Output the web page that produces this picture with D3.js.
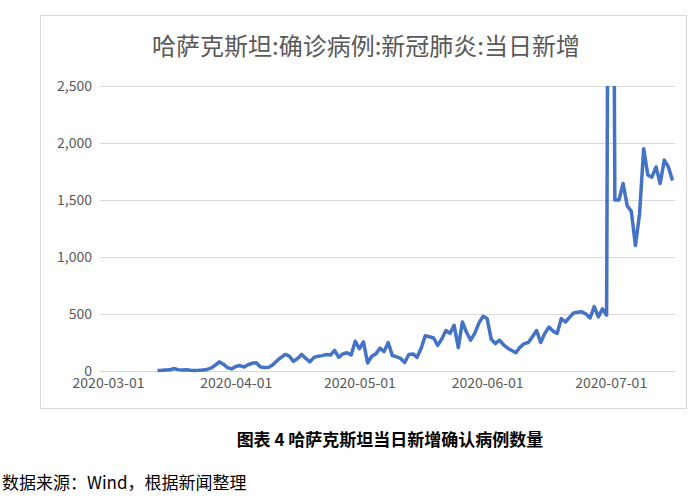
<!DOCTYPE html><html><head><meta charset="utf-8"><script src="https://cdn.jsdelivr.net/npm/d3@7"></script>
<style>body{margin:0;background:#fff}</style></head><body><svg id="c" width="700" height="500"></svg><script>
const startDay = 12; // index from 2020-03-01
const values = [4,6,9,10,22,12,8,10,6,5,6,8,14,25,50,80,60,30,18,40,48,35,55,68,72,35,30,32,55,90,120,145,130,85,110,145,110,80,120,130,135,145,140,180,120,150,160,140,260,195,255,70,130,150,200,170,250,135,125,110,75,145,150,120,200,310,300,290,225,280,355,330,400,205,430,340,270,330,420,480,460,280,240,270,230,200,180,160,210,240,250,300,355,250,330,385,350,330,460,430,470,510,515,520,500,465,565,475,545,490,10000,1500,1500,1645,1450,1400,1100,1380,1950,1720,1700,1790,1645,1850,1790,1670];
const yTicks = [0,500,1000,1500,2000,2500];
const xTickDays = [0,31,61,92,122];
const xTickLabels = ["2020-03-01","2020-04-01","2020-05-01","2020-06-01","2020-07-01"];
const title = "哈萨克斯坦:确诊病例:新冠肺炎:当日新增";
const caption = "图表 4 哈萨克斯坦当日新增确认病例数量";
const source = "数据来源：Wind，根据新闻整理";

const svg = d3.select("#c");
const font = "'Noto Sans CJK SC','Noto Sans',sans-serif";
svg.append("rect").attr("x",40.5).attr("y",15.5).attr("width",646).attr("height",393).attr("fill","#fff").attr("stroke","#d9d9d9");
const x = d3.scaleLinear().domain([-6.8,137.6]).range([80,675]);
const y = d3.scaleLinear().domain([0,2500]).range([371,86]);
svg.append("text").attr("x",366).attr("y",55).attr("text-anchor","middle").attr("font-family",font).attr("font-size",24).attr("fill","#595959").text(title);
const gy = svg.append("g").attr("transform","translate(100,0)").call(d3.axisLeft(y).tickValues(yTicks).tickSize(-575).tickFormat(d3.format(",")));
gy.select(".domain").remove();
gy.selectAll("line").attr("stroke","#d9d9d9");
gy.selectAll("text").attr("x",-8).attr("font-family",font).attr("font-size",14).attr("fill","#595959");
const gx = svg.append("g").attr("transform","translate(0,371)").call(d3.axisBottom(x).tickValues(xTickDays).tickSize(0).tickFormat((d,i)=>xTickLabels[i]));
gx.select(".domain").remove();
gx.selectAll("text").attr("dy","1.0em").attr("font-family",font).attr("font-size",14).attr("fill","#595959");
svg.append("clipPath").attr("id","cp").append("rect").attr("x",80).attr("y",86).attr("width",600).attr("height",300);
svg.append("path").datum(values).attr("clip-path","url(#cp)").attr("fill","none").attr("stroke","#4472C4").attr("stroke-width",3.5).attr("stroke-linejoin","round")
  .attr("d",d3.line().x((d,i)=>x(startDay+i)).y(d=>y(d)));
svg.append("text").attr("x",390).attr("y",446).attr("text-anchor","middle").attr("font-family",font).attr("font-size",17).attr("font-weight","bold").attr("fill","#000").text(caption);
svg.append("text").attr("x",2).attr("y",489).attr("font-family",font).attr("font-size",17).attr("fill","#000").text(source);
</script></body></html>
